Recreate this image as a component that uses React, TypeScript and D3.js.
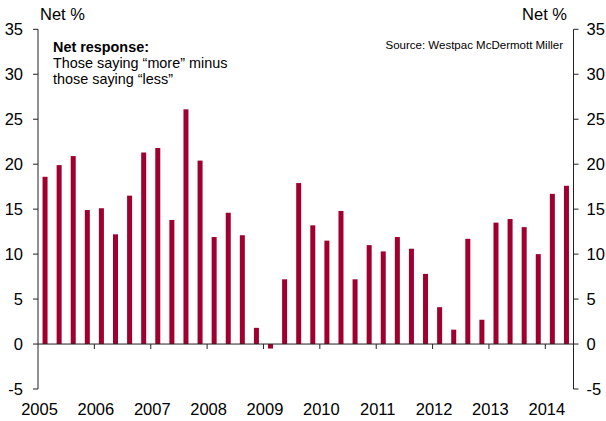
import React from "react";
import * as d3 from "d3";

const quarters: string[] = [];
const years = [2005, 2006, 2007, 2008, 2009, 2010, 2011, 2012, 2013, 2014];
for (const y of years) for (const q of [1, 2, 3, 4]) quarters.push(`${y}Q${q}`);
const categories = quarters.slice(0, 38); // 2005Q1 .. 2014Q2

const netResponse = [
  18.6, 19.9, 20.9, 14.9, 15.1, 12.2, 16.5, 21.3, 21.8, 13.8,
  26.1, 20.4, 11.9, 14.6, 12.1, 1.8, -0.5, 7.2, 17.9, 13.2,
  11.5, 14.8, 7.2, 11.0, 10.3, 11.9, 10.6, 7.8, 4.1, 1.6,
  11.7, 2.7, 13.5, 13.9, 13.0, 10.0, 16.7, 17.6,
];

const yTicks = [-5, 0, 5, 10, 15, 20, 25, 30, 35];
const yearLabels = ["2005", "2006", "2007", "2008", "2009", "2010", "2011", "2012", "2013", "2014"];

const W = 606;
const H = 421;
const X0 = 38;
const X1 = 573.5;
const FONT = "'Liberation Sans', Arial, sans-serif";
const BAR = "#A0002F";
const AXIS = "#222";

export default function App() {
  const x = d3
    .scaleBand<string>()
    .domain(categories)
    .range([X0, X1])
    .paddingInner(0.645)
    .paddingOuter(0.3225);
  const xq = d3.scaleLinear().domain([0, categories.length]).range([X0, X1]);
  const y = d3.scaleLinear().domain([-5, 35]).range([389, 29.3]);
  const y0 = y(0);

  return (
    <svg
      width={W}
      height={H}
      style={{ position: "absolute", left: 0, top: 0, background: "#fff" }}
      fontFamily={FONT}
    >
      <rect x={0} y={0} width={W} height={H} fill="#fff" />
      {/* bars */}
      {categories.map((c, i) => {
        const v = netResponse[i];
        const top = v >= 0 ? y(v) : y0;
        const h = Math.abs(y(v) - y0);
        return <rect key={c} x={x(c)} y={top} width={x.bandwidth()} height={h} fill={BAR} />;
      })}
      {/* zero line */}
      <line x1={X0} x2={X1} y1={y0} y2={y0} stroke={AXIS} strokeWidth={1} />
      {/* year ticks */}
      {yearLabels.map((yl, k) => {
        const xx = xq(k * 4);
        return (
          <g key={yl}>
            {k > 0 && <line x1={xx} x2={xx} y1={y0} y2={y0 + 5} stroke={AXIS} strokeWidth={1} />}
            <text x={xx + 1.5} y={415} textAnchor="middle" fontSize={16.5} fill="#000">
              {yl}
            </text>
          </g>
        );
      })}
      {/* left axis */}
      <line x1={X0} x2={X0} y1={y(35)} y2={y(-5)} stroke={AXIS} strokeWidth={1} />
      {yTicks.map((t) => (
        <g key={"l" + t}>
          <line x1={X0 - 5} x2={X0} y1={y(t)} y2={y(t)} stroke={AXIS} strokeWidth={1} />
          <text x={23} y={y(t)} dy="0.35em" textAnchor="end" fontSize={16.5} fill="#000">
            {String(t)}
          </text>
        </g>
      ))}
      {/* right axis */}
      <line x1={X1} x2={X1} y1={y(35)} y2={y(-5)} stroke={AXIS} strokeWidth={1} />
      {yTicks.map((t) => (
        <g key={"r" + t}>
          <line x1={X1} x2={X1 + 5} y1={y(t)} y2={y(t)} stroke={AXIS} strokeWidth={1} />
          <text x={586.5} y={y(t)} dy="0.35em" textAnchor="start" fontSize={16.5} fill="#000">
            {String(t)}
          </text>
        </g>
      ))}
      {/* axis titles */}
      <text x={40} y={20} fontSize={16.5} fill="#000">Net %</text>
      <text x={567} y={20} fontSize={16.5} textAnchor="end" fill="#000">Net %</text>
      {/* annotation */}
      <text x={53} y={52} fontSize={14.4} fontWeight="bold" fill="#000">Net response:</text>
      <text x={53} y={68} fontSize={14.4} fill="#000">Those saying “more” minus</text>
      <text x={53} y={84} fontSize={14.4} fill="#000">those saying “less”</text>
      <text x={563} y={49} fontSize={11.5} textAnchor="end" fill="#000">
        Source: Westpac McDermott Miller
      </text>
    </svg>
  );
}
